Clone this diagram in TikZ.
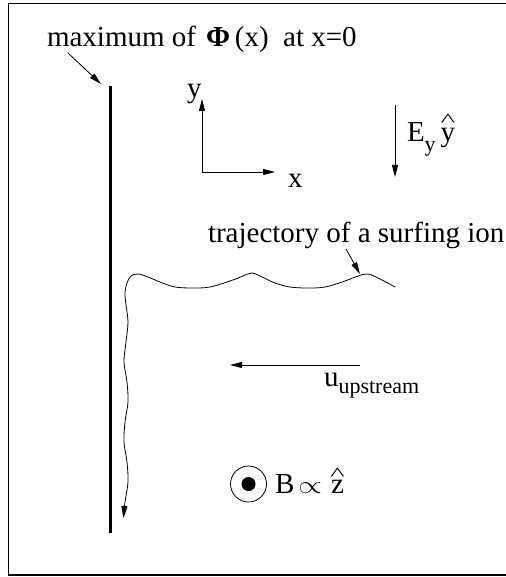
\documentclass[tikz,border=0pt]{standalone}
\usepackage{fontspec}
\usepackage{graphicx}
\setmainfont{Liberation Serif}
\usetikzlibrary{arrows.meta}
\newcommand\hatlet[2]{\ooalign{#1\cr\hidewidth\raisebox{#2}{\scalebox{1.05}[0.65]{\textasciicircum}}\hidewidth\cr}}
\newcommand\subfs{\fontsize{22}{22}\selectfont}
\newcommand\bigpropto{{\fontsize{10}{10}\selectfont\scalebox{3.05}[2.5]{$\propto$}}}
\begin{document}
\begin{tikzpicture}[x=1pt,y=-1pt,
  font=\fontsize{29}{29}\selectfont,
  arr/.style={-{Triangle[length=12pt,width=6pt]}, line width=0.8pt},
  lbl/.style={anchor=base west, inner sep=0pt, outer sep=0pt},
  frame/.style={line width=1.5pt},
  wall/.style={line width=3pt},
  traj/.style={line width=0.8pt}]
\useasboundingbox (0,0) rectangle (505,577);
% frame (right side lies outside the picture)
\draw[frame] (506,3.3) -- (8.3,3.3) -- (8.3,575) -- (506,575);
% wall: maximum of potential
\coordinate (wallTop) at (110,86);
\coordinate (wallBot) at (110,533);
\draw[wall] (wallTop) -- (wallBot);
\node[lbl] (maxlbl) at (47,47) {maximum of\hspace{10pt}{\bfseries Φ}\,(x)\ \ at x=0};
\coordinate (maxTail) at (68,53);
\coordinate (maxTip) at (101,84);
\draw[arr] (maxTail) -- (maxTip);
% axes
\coordinate (O) at (202,172);
\coordinate (ytip) at (202,99);
\coordinate (xtip) at (275,172);
\draw[arr] (O) -- (ytip);
\draw[arr] (O) -- (xtip);
\node[lbl] (ylbl) at (187,98) {y};
\node[lbl] (xlbl) at (288,187) {x};
% electric field
\coordinate (Etail) at (395,105);
\coordinate (Etip) at (395,177);
\draw[arr] (Etail) -- (Etip);
\node[lbl] (elbl) at (407,142) {E\raisebox{-10pt}{\subfs y}\hspace{5pt}\hatlet{y}{15pt}};
% trajectory
\node[lbl] (trajlbl) at (208,242) {trajectory of a surfing ion};
\coordinate (trajTail) at (346,249);
\coordinate (trajTip) at (360,274);
\draw[arr] (trajTail) -- (trajTip);
\draw[traj, -{Triangle[length=12pt,width=6pt]}] plot[smooth, tension=0.55] coordinates {
 (395,287) (380,279) (368,274) (358,276) (345,281) (325,287) (307,288) (290,287)
 (275,283) (262,277) (252,273) (243,276) (230,281) (210,287) (193,288) (175,287)
 (160,282) (148,277) (138,274) (131,276) (127,283) (125,293) (126,305)
 (128,322) (126,342) (124,362) (127,382) (128,402) (125,422) (124,442)
 (127,462) (128,482) (125,502) (123.5,518)};
% upstream flow
\coordinate (uTail) at (360,365);
\coordinate (uTip) at (230,365);
\draw[arr] (uTail) -- (uTip);
\node[lbl] (ulbl) at (324,386) {u\raisebox{-7pt}{\subfs upstream}};
% magnetic field
\node[circle, draw, line width=0.8pt, minimum size=36pt, inner sep=0pt] (Bcirc) at (248.5,484) {};
\fill (Bcirc.center) circle (7pt);
\node[lbl] (Blbl) at (275,493) {B\hspace{4pt}\bigpropto\hspace{9pt}\hatlet{z}{13pt}};
\end{tikzpicture}
\end{document}
